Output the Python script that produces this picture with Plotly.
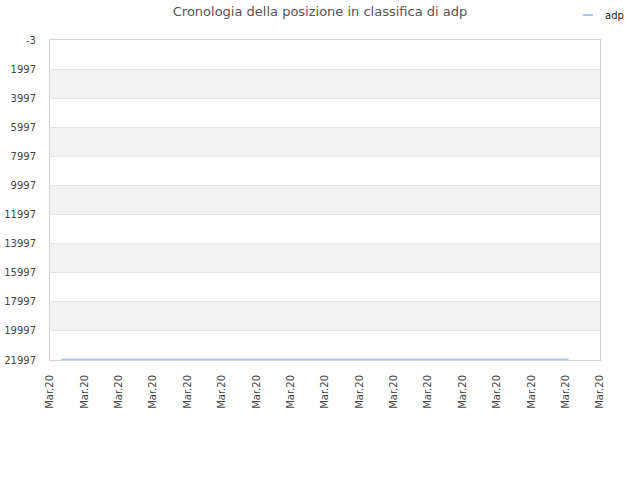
import plotly.graph_objects as go

# Ranking history for "adp" (lower number = better position)
dates = ["2020-03-01 08:00", "2020-03-04 08:00", "2020-03-08 08:00",
         "2020-03-12 08:00", "2020-03-16 02:00"]
positions = [21940, 21940, 21940, 21940, 21940]
seriesName = 'adp'

# y ticks of the reversed rank axis
tickVals = [-3, 1997, 3997, 5997, 7997, 9997, 11997, 13997, 15997, 17997, 19997, 21997]
tickText = [str(v) for v in tickVals]

lineColour = '#a2c8ef'
fontColour = '#444444'
gridColour = '#e3e3e3'
bandColour = '#f2f2f2'

fig = go.Figure()
fig.add_trace(go.Scatter(x=dates, y=positions, mode='lines', name=seriesName,
                         line=dict(color=lineColour, width=1.5), showlegend=False))

# alternating grey bands between the grid lines
shapes = []
for i in range(1, len(tickVals) - 1, 2):
    shapes.append(dict(type='rect', xref='paper', yref='y', x0=0, x1=1,
                       y0=tickVals[i], y1=tickVals[i + 1], fillcolor=bandColour,
                       line=dict(width=0), layer='below'))

# small legend key in the top right corner (short line + label)
shapes.append(dict(type='line', xref='paper', yref='paper', x0=0.969, x1=0.987,
                   y0=1.078, y1=1.078, line=dict(color=lineColour, width=2)))

fig.update_layout(
    width=640, height=480,
    title=dict(text='Cronologia della posizione in classifica di adp', x=0.5, xanchor='center',
               y=0.985, yanchor='top',
               font=dict(size=13, color='#555555', family='DejaVu Sans')),
    font=dict(family='DejaVu Sans', size=11, color=fontColour),
    paper_bgcolor='white', plot_bgcolor='white',
    margin=dict(l=50, r=40, t=40, b=120, autoexpand=False),
    shapes=shapes,
    showlegend=False,
    annotations=[dict(text=seriesName, xref='paper', yref='paper', x=1.005, y=1.078,
                      xanchor='left', yanchor='middle', showarrow=False,
                      font=dict(size=10, color='#222222'))],
)
fig.update_xaxes(type='date', range=['2020-03-01', '2020-03-17'], dtick=86400000,
                 tick0='2020-03-01', tickformat='%b.%y', tickangle=-90,
                 showgrid=False, showline=True, linecolor='#d6d6d6', mirror=True,
                 ticks='', ticklabelstandoff=10, tickfont=dict(size=10), automargin=False)
fig.update_yaxes(range=[21997, -3], tickvals=tickVals, ticktext=tickText,
                 showgrid=True, gridcolor=gridColour,
                 showline=True, linecolor='#d6d6d6', mirror=True, zeroline=False,
                 ticks='', ticklabelstandoff=11, tickfont=dict(size=10), automargin=False)

fig.write_html("out.html", config={'displayModeBar': False},
               post_script="document.body.style.margin='0';")
